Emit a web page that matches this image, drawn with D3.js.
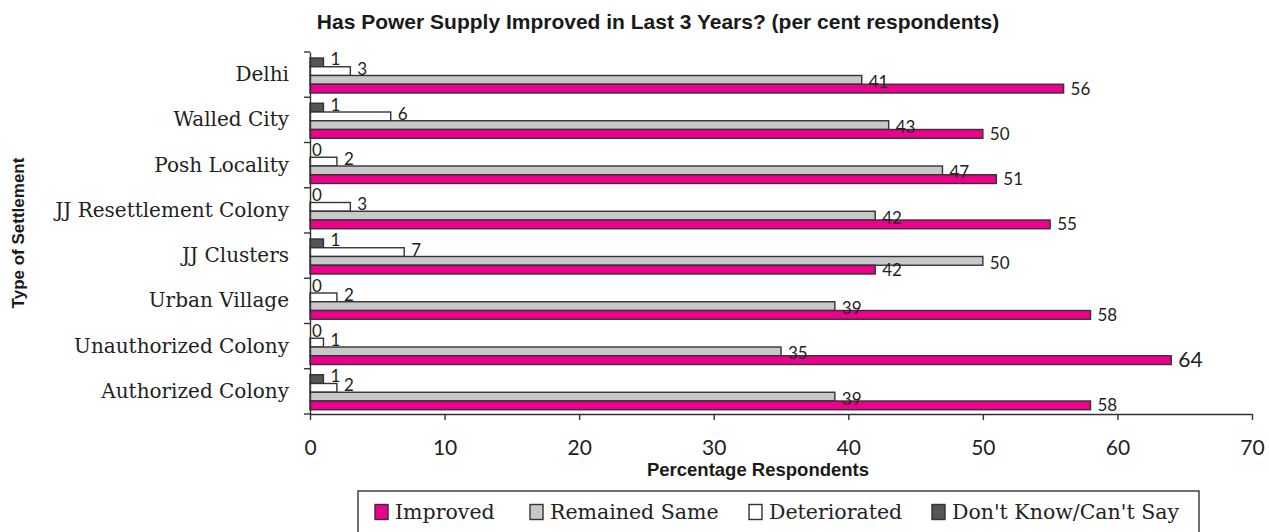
<!DOCTYPE html>
<html><head><meta charset="utf-8">
<script src="https://cdn.jsdelivr.net/npm/d3@7"></script>
<style>body{margin:0;background:#fff}svg{display:block}</style>
</head><body><svg id="c" width="1269" height="532"></svg>
<script>
const categories = ["Delhi","Walled City","Posh Locality","JJ Resettlement Colony","JJ Clusters","Urban Village","Unauthorized Colony","Authorized Colony"];
const improved = [56,50,51,55,42,58,64,58];
const remainedSame = [41,43,47,42,50,39,35,39];
const deteriorated = [3,6,2,3,7,2,1,2];
const dontKnow = [1,1,0,0,1,0,0,1];
const xTicks = [0,10,20,30,40,50,60,70];
const seriesNames = ["Don't Know/Can't Say","Deteriorated","Remained Same","Improved"];
const legendNames = ["Improved","Remained Same","Deteriorated","Don't Know/Can't Say"];

const colors = {"Improved":"#EC008C","Remained Same":"#C8C8C8","Deteriorated":"#FFFFFF","Don't Know/Can't Say":"#555555"};
const labelDy = {"Improved":0,"Remained Same":2,"Deteriorated":-2.5,"Don't Know/Can't Say":-3};
const seriesData = {"Improved":improved,"Remained Same":remainedSame,"Deteriorated":deteriorated,"Don't Know/Can't Say":dontKnow};

const svg = d3.select("#c");
const pLeft=310, pRight=1252, pTop=52, pBottom=414;
const x = d3.scaleLinear().domain([0,70]).range([pLeft,pRight]);
const y = d3.scaleBand().domain(categories).range([pTop,pBottom]).padding(0);
const inner = d3.scaleBand().domain(seriesNames).range([6, y.bandwidth()-4.25]).padding(0);

const serif = "'DejaVu Serif', serif";
const sans = "Lato, 'Open Sans', sans-serif";
const boldSans = "'Liberation Sans',Arial,sans-serif";

// title
svg.append("text").attr("x",658).attr("y",28.5).attr("text-anchor","middle")
  .style("font-family",boldSans).style("font-weight","bold").style("font-size","21px").attr("fill","#1a1a1a")
  .text("Has Power Supply Improved in Last 3 Years? (per cent respondents)");

// bars
const rows = [];
categories.forEach((c,i)=>seriesNames.forEach(s=>rows.push({cat:c,series:s,value:seriesData[s][i]})));
const maxVal = d3.max(rows,d=>d.value);
svg.append("g").selectAll("rect").data(rows).join("rect")
  .attr("x",x(0)).attr("y",d=>y(d.cat)+inner(d.series))
  .attr("width",d=>x(d.value)-x(0)).attr("height",inner.bandwidth())
  .attr("fill",d=>colors[d.series]).attr("stroke","#333").attr("stroke-width",1.4);

svg.append("g").selectAll("text").data(rows).join("text")
  .attr("x",d=>x(d.value)+(d.value>0?7:2))
  .attr("y",d=>y(d.cat)+inner(d.series)+inner.bandwidth()/2+labelDy[d.series])
  .attr("dy","0.35em")
  .style("font-family",sans).style("font-size",d=>d.value===maxVal?"21px":"17px").attr("fill","#222")
  .text(d=>d.value);

// x axis
const xAxis = svg.append("g").attr("transform",`translate(0,${pBottom})`)
  .call(d3.axisBottom(x).tickValues(xTicks).tickSize(6).tickSizeOuter(0).tickPadding(20));
xAxis.select(".domain").attr("stroke","#333").attr("stroke-width",1.4);
xAxis.selectAll(".tick line").attr("stroke","#333").attr("stroke-width",1.4);
xAxis.selectAll("text").style("font-family",sans).style("font-size","21px").attr("fill","#222");

// y axis
const yAxis = svg.append("g").attr("transform",`translate(${pLeft},0)`)
  .call(d3.axisLeft(y).tickSize(0).tickPadding(21));
yAxis.select(".domain").attr("stroke","#333").attr("stroke-width",1.4);
yAxis.selectAll("text").style("font-family",serif).style("font-size","20px").attr("fill","#222");
// category boundary ticks
const bounds = categories.map(c=>y(c)).concat([pBottom]);
svg.append("g").selectAll("line").data(bounds).join("line")
  .attr("x1",pLeft-6).attr("x2",pLeft).attr("y1",d=>d).attr("y2",d=>d)
  .attr("stroke","#333").attr("stroke-width",1.4);

// axis titles
svg.append("text").attr("x",758).attr("y",476).attr("text-anchor","middle")
  .style("font-family",boldSans).style("font-weight","bold").style("font-size","18.5px").attr("fill","#1a1a1a")
  .text("Percentage Respondents");
svg.append("text").attr("transform","translate(24,233) rotate(-90)").attr("text-anchor","middle")
  .style("font-family",boldSans).style("font-weight","bold").style("font-size","17px").attr("fill","#1a1a1a")
  .text("Type of Settlement");

// legend
svg.append("rect").attr("x",358).attr("y",491).attr("width",841).attr("height",50)
  .attr("fill","#fff").attr("stroke","#333").attr("stroke-width",1.4);
const legX = [375,530,749,932];
const lg = svg.append("g").selectAll("g").data(legendNames).join("g")
  .attr("transform",(d,i)=>`translate(${legX[i]},512)`);
lg.append("rect").attr("x",0).attr("y",-7.5).attr("width",13).attr("height",15)
  .attr("fill",d=>colors[d]).attr("stroke","#333").attr("stroke-width",1.4);
lg.append("text").attr("x",20).attr("y",0).attr("dy","0.35em")
  .style("font-family",serif).style("font-size","20.5px").attr("fill","#222").text(d=>d);
</script></body></html>
